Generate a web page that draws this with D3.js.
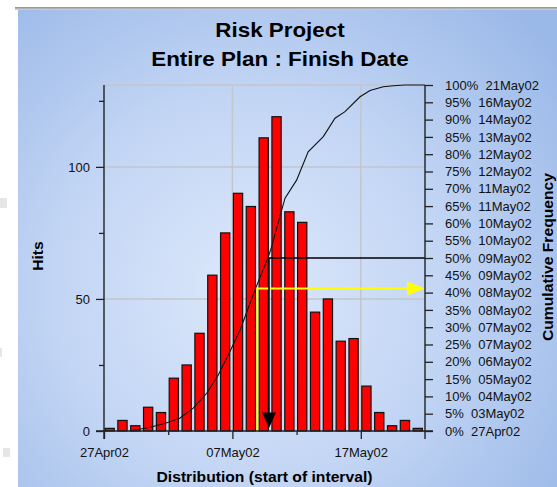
<!DOCTYPE html>
<html>
<head>
<meta charset="utf-8">
<script src="https://cdn.jsdelivr.net/npm/d3@7"></script>
<style>
  html, body { margin: 0; padding: 0; background: #fff; }
  svg { display: block; font-family: "Liberation Sans", Arial, sans-serif; }
</style>
</head>
<body>
<svg id="chart" width="557" height="487"></svg>
<script>
// Simulated finish dates: hits per one-day interval, starting 27Apr02
const hits = [1, 4, 2, 9, 7, 20, 25, 37, 59, 75, 90, 85, 111, 119, 83, 79, 45, 50, 34, 35, 17, 7, 2, 4, 1];

// Cumulative frequency curve: days after 27Apr02 and cumulative percent
const cumDays = [2.0, 2.4, 3.6, 4.9, 5.9, 6.95, 8.0, 8.9, 9.8, 10.6, 11.76, 12.8, 13.06, 13.84, 14.1, 15.0, 15.9, 17.08, 17.99, 18.77, 19.94, 20.72, 21.75, 22.53, 23.44, 25];
const cumPct  = [0, 0.3, 1.1, 2.4, 3.7, 6.6, 10.9, 16.2, 22.9, 29.2, 40.8, 50.4, 53.3, 63.9, 67.3, 72.5, 80.7, 85.1, 90.4, 92.3, 96.6, 98.4, 99.5, 99.8, 100, 100];

// Markers: [day, cumulative percent]
const p50Marker = [12.85, 50];
const planMarker = [11.94, 41.2];

// Axis ticks and labels
const xTickDays = [0, 10, 20];
const xTickLabels = ["27Apr02", "07May02", "17May02"];
const xMinorDays = [5, 15];
const hitTicks = [0, 50, 100];
const hitMinorTicks = [25, 75, 125];
const pctTicks = [0, 5, 10, 15, 20, 25, 30, 35, 40, 45, 50, 55, 60, 65, 70, 75, 80, 85, 90, 95, 100];
const pctDates = ["27Apr02", "03May02", "04May02", "05May02", "06May02", "07May02", "07May02", "08May02", "08May02", "09May02", "09May02",
                  "10May02", "10May02", "11May02", "11May02", "12May02", "12May02", "13May02", "14May02", "16May02", "21May02"];

const svg = d3.select("#chart");
const W = 557, H = 487;
const plot = { left: 104, right: 425, top: 85, bottom: 431 };

const x = d3.scaleLinear().domain([0, 25]).range([plot.left, plot.right]);
const y = d3.scaleLinear().domain([0, 131]).range([plot.bottom, plot.top]);
const yPct = d3.scaleLinear().domain([0, 100]).range([plot.bottom, plot.top]);

// ---- background ----
const defs = svg.append("defs");
const rg = defs.append("radialGradient").attr("id", "bg")
  .attr("gradientUnits", "userSpaceOnUse")
  .attr("cx", 250).attr("cy", 290).attr("r", 390);
rg.append("stop").attr("offset", 0).attr("stop-color", "#dde9fb");
rg.append("stop").attr("offset", 0.5).attr("stop-color", "#c2d5f4");
rg.append("stop").attr("offset", 1).attr("stop-color", "#9ab8e8");
const lg = defs.append("linearGradient").attr("id", "topband").attr("x1", 0).attr("y1", 0).attr("x2", 0).attr("y2", 1);
lg.append("stop").attr("offset", 0).attr("stop-color", "#8e8e8e");
lg.append("stop").attr("offset", 1).attr("stop-color", "#d6d6d6");

svg.append("rect").attr("width", W).attr("height", H).attr("fill", "#fff");
svg.append("rect").attr("x", 18).attr("y", 10).attr("width", W - 18).attr("height", H - 10).attr("fill", "url(#bg)");
svg.append("rect").attr("x", 15).attr("y", 7).attr("width", W - 15).attr("height", 3).attr("fill", "url(#topband)");
// small grey handles on the left margin
[[0, 198, 7, 10], [0, 348, 2, 9], [3, 448, 7, 9]].forEach(r =>
  svg.append("rect").attr("x", r[0]).attr("y", r[1]).attr("width", r[2]).attr("height", r[3]).attr("fill", "#e6e6e6"));

// ---- titles ----
const boldText = (tx, ty, rot, size, str) =>
  svg.append("text")
    .attr("transform", `translate(${tx},${ty}) rotate(${rot}) scale(1.12,1)`)
    .attr("text-anchor", "middle")
    .attr("font-weight", "bold").attr("font-size", size).attr("fill", "#000")
    .text(str);
boldText(280, 37, 0, 20, "Risk Project");
boldText(280, 66, 0, 20, "Entire Plan : Finish Date");
boldText(264.5, 482, 0, 14, "Distribution (start of interval)");
boldText(43, 256, -90, 14, "Hits");
boldText(553, 257, -90, 14, "Cumulative Frequency");

// ---- grid ----
const grid = svg.append("g").attr("stroke", "#c3c6cb").attr("stroke-width", 1.5);
[50, 100].forEach(v => grid.append("line").attr("x1", plot.left).attr("x2", plot.right).attr("y1", y(v)).attr("y2", y(v)));
grid.append("line").attr("x1", plot.left).attr("x2", plot.right).attr("y1", plot.top).attr("y2", plot.top);
[10, 20].forEach(d => grid.append("line").attr("x1", x(d)).attr("x2", x(d)).attr("y1", plot.top).attr("y2", plot.bottom));

// ---- bars ----
svg.append("g").selectAll("rect").data(hits).join("rect")
  .attr("x", (d, i) => x(i) + 1)
  .attr("width", x(0.72) - x(0))
  .attr("y", d => y(d))
  .attr("height", d => plot.bottom - y(d))
  .attr("fill", "#ff0000")
  .attr("stroke", "#111")
  .attr("stroke-width", 1.2);

// ---- cumulative curve ----
const curvePts = cumDays.map((d, i) => [d, cumPct[i]]);
svg.append("path")
  .attr("d", d3.line().x(d => x(d[0])).y(d => yPct(d[1]))(curvePts))
  .attr("fill", "none").attr("stroke", "#111").attr("stroke-width", 1.1);

// ---- planned-date marker (yellow) ----
const px = x(planMarker[0]), py = yPct(planMarker[1]);
svg.append("path")
  .attr("d", `M${px},${plot.bottom}V${py}H${plot.right - 16}`)
  .attr("fill", "none").attr("stroke", "#ffff00").attr("stroke-width", 2);
svg.append("path")
  .attr("d", `M${plot.right},${py}L${plot.right - 18},${py - 7}L${plot.right - 18},${py + 7}Z`)
  .attr("fill", "#ffff00");

// ---- 50% marker (black) ----
const mx = x(p50Marker[0]), my = yPct(p50Marker[1]);
svg.append("path")
  .attr("d", `M${plot.right},${my}H${mx}V${plot.bottom - 16}`)
  .attr("fill", "none").attr("stroke", "#000").attr("stroke-width", 1.5);
svg.append("path")
  .attr("d", `M${mx},${plot.bottom - 3}L${mx - 7},${plot.bottom - 18.5}L${mx + 7},${plot.bottom - 18.5}Z`)
  .attr("fill", "#000");

// ---- axes ----
const styleAxis = g => {
  g.select(".domain").remove();
  g.selectAll(".tick line").attr("stroke", "#222").attr("stroke-width", 1.3);
  g.selectAll("text").attr("fill", "#111").attr("font-size", 13)
    .attr("font-family", "'Liberation Sans', Arial, sans-serif");
};

svg.append("g").attr("transform", `translate(${plot.left},0)`)
  .call(d3.axisLeft(y).tickValues(hitTicks).tickSize(8).tickPadding(6))
  .call(styleAxis);
svg.append("g").attr("transform", `translate(${plot.left},0)`)
  .call(d3.axisLeft(y).tickValues(hitMinorTicks).tickSize(5).tickFormat(""))
  .call(styleAxis);

svg.append("g").attr("transform", `translate(${plot.right},0)`)
  .call(d3.axisRight(yPct).tickValues(pctTicks).tickSize(8).tickPadding(12)
    .tickFormat((d, i) => `${d}%  ${pctDates[i]}`))
  .call(styleAxis)
  .selectAll("text").style("white-space", "pre");

svg.append("g").attr("transform", `translate(0,${plot.bottom})`)
  .call(d3.axisBottom(x).tickValues(xTickDays).tickSize(8).tickPadding(8.5)
    .tickFormat((d, i) => xTickLabels[i]))
  .call(styleAxis);
svg.append("g").attr("transform", `translate(0,${plot.bottom})`)
  .call(d3.axisBottom(x).tickValues(xMinorDays).tickSize(4).tickFormat(""))
  .call(styleAxis);

// axis lines
const axisLines = svg.append("g").attr("stroke", "#222").attr("stroke-width", 1.4);
axisLines.append("line").attr("x1", plot.left).attr("x2", plot.left).attr("y1", plot.top).attr("y2", plot.bottom + 8);
axisLines.append("line").attr("x1", plot.right).attr("x2", plot.right).attr("y1", plot.top).attr("y2", plot.bottom + 8);
axisLines.append("line").attr("x1", plot.left - 8).attr("x2", plot.right + 8).attr("y1", plot.bottom).attr("y2", plot.bottom);
</script>
</body>
</html>
